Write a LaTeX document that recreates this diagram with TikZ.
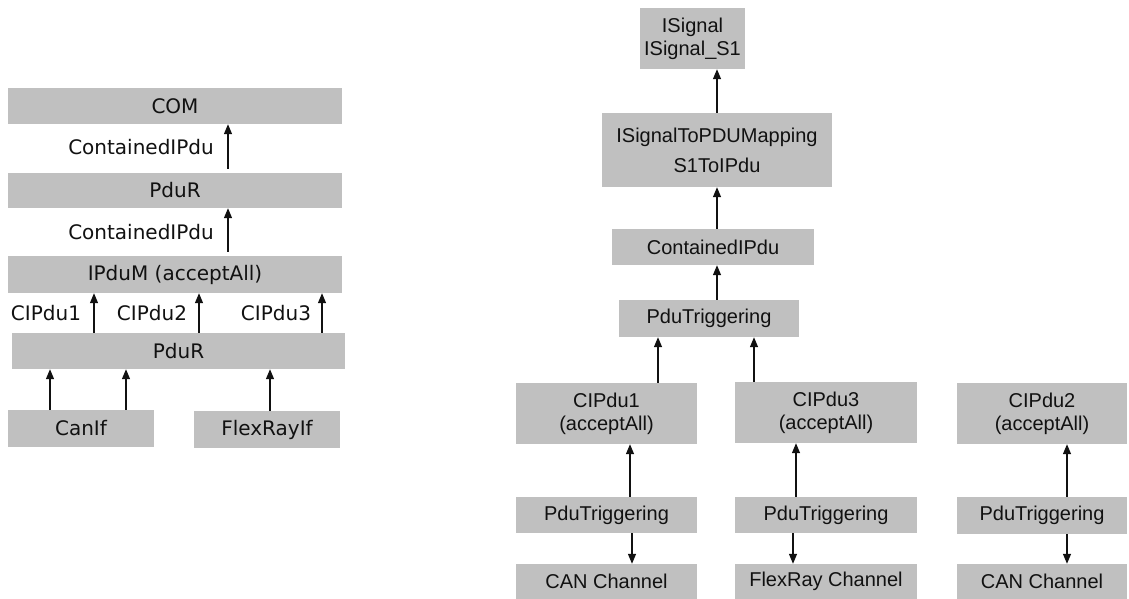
\documentclass[tikz,border=0pt]{standalone}
\usepackage{fontspec}
\setmainfont{Liberation Sans}
\newfontfamily\leftfont{DejaVu Sans}
\usetikzlibrary{arrows.meta}
\definecolor{boxgray}{RGB}{192,192,192}
\definecolor{ink}{RGB}{17,17,17}
\tikzset{
  box/.style={fill=boxgray, draw=none, inner sep=0pt, text=ink, align=center},
  lbox/.style={box, font=\leftfont\fontsize{20}{24}\selectfont},
  rbox/.style={box, font=\fontsize{20}{23}\selectfont},
  lbl/.style={text=ink, inner sep=0pt, font=\leftfont\fontsize{20}{24}\selectfont},
  arr/.style={draw=ink, line width=1.3pt, -{Triangle[width=8pt,length=10pt]}},
}
\begin{document}
\begin{tikzpicture}[x=1pt,y=-1pt]
\useasboundingbox (0,0) rectangle (1129,599);
% ---------- left part ----------
\node[lbox, minimum width=334pt, minimum height=36pt] (com)   at (175,106)   {COM};
\node[lbox, minimum width=334pt, minimum height=35pt] (pdur1) at (175,190.5) {PduR};
\node[lbox, minimum width=334pt, minimum height=37pt] (ipdum) at (175,274.5) {IPduM (acceptAll)};
\node[lbox, minimum width=333pt, minimum height=36pt] (pdur2) at (178.5,351) {PduR};
\node[lbox, minimum width=146pt, minimum height=37pt] (canif) at (81,428.5)  {CanIf};
\node[lbox, minimum width=146pt, minimum height=37pt] (frif)  at (267,429.5) {FlexRayIf};

\node[lbl, anchor=east] (lc1) at (214,147) {ContainedIPdu};
\node[lbl, anchor=east] (lc2) at (214,232) {ContainedIPdu};
\node[lbl] (lp1) at (46,313)  {CIPdu1};
\node[lbl] (lp2) at (152,313) {CIPdu2};
\node[lbl] (lp3) at (276,313) {CIPdu3};

\coordinate (xa) at (228,0);
\coordinate (xb) at (94,0);
\coordinate (xc) at (199,0);
\coordinate (xd) at (322,0);
\coordinate (xe) at (50,0);
\coordinate (xf) at (126,0);
\coordinate (xg) at (270,0);

\draw[arr, shorten <=4pt] (pdur1.north -| xa) -- (com.south -| xa);
\draw[arr, shorten <=4pt] (ipdum.north -| xa) -- (pdur1.south -| xa);
\draw[arr] (pdur2.north -| xb) -- (ipdum.south -| xb);
\draw[arr] (pdur2.north -| xc) -- (ipdum.south -| xc);
\draw[arr] (pdur2.north -| xd) -- (ipdum.south -| xd);
\draw[arr] (canif.north -| xe) -- (pdur2.south -| xe);
\draw[arr] (canif.north -| xf) -- (pdur2.south -| xf);
\draw[arr] (frif.north -| xg) -- (pdur2.south -| xg);

% ---------- right part ----------
\node[rbox, minimum width=105pt, minimum height=61pt] (isig) at (692.5,38.5) {ISignal\\ISignal\_S1};
\node[rbox, minimum width=230pt, minimum height=74pt, font=\fontsize{20}{30}\selectfont] (map) at (717,150) {ISignalToPDUMapping\\S1ToIPdu};
\node[rbox, minimum width=202pt, minimum height=36pt] (cont) at (713,247) {ContainedIPdu};
\node[rbox, minimum width=180pt, minimum height=37pt] (trig) at (709,318.5) {PduTriggering};

\node[rbox, minimum width=181pt, minimum height=61pt] (c1) at (606.5,413.5) {CIPdu1\\(acceptAll)};
\node[rbox, minimum width=182pt, minimum height=61pt] (c3) at (826,412.5) {CIPdu3\\(acceptAll)};
\node[rbox, minimum width=170pt, minimum height=61pt] (c2) at (1042,413.5) {CIPdu2\\(acceptAll)};

\node[rbox, minimum width=181pt, minimum height=36pt] (t1) at (606.5,515) {PduTriggering};
\node[rbox, minimum width=182pt, minimum height=36pt] (t3) at (826,515) {PduTriggering};
\node[rbox, minimum width=170pt, minimum height=37pt] (t2) at (1042,515.5) {PduTriggering};

\node[rbox, minimum width=181pt, minimum height=35pt] (ch1) at (606.5,581.5) {CAN Channel};
\node[rbox, minimum width=182pt, minimum height=35pt] (ch3) at (826,581.5) {FlexRay Channel};
\node[rbox, minimum width=170pt, minimum height=35pt] (ch2) at (1042,581.5) {CAN Channel};

\coordinate (xm) at (717,0);
\coordinate (xn) at (658,0);
\coordinate (xo) at (754,0);
\coordinate (xp) at (630,0);
\coordinate (xq) at (632,0);
\coordinate (xr) at (796,0);
\coordinate (xs) at (793,0);
\coordinate (xt) at (1067,0);

\draw[arr] (map.north -| xm) -- (isig.south -| xm);
\draw[arr] (cont.north -| xm) -- (map.south -| xm);
\draw[arr] (trig.north -| xm) -- (cont.south -| xm);
\draw[arr] (c1.north -| xn) -- (trig.south -| xn);
\draw[arr] (c3.north -| xo) -- (trig.south -| xo);
\draw[arr] (t1.north -| xp) -- (c1.south -| xp);
\draw[arr] (t1.south -| xq) -- (ch1.north -| xq);
\draw[arr] (t3.north -| xr) -- (c3.south -| xr);
\draw[arr] (t3.south -| xs) -- (ch3.north -| xs);
\draw[arr] (t2.north -| xt) -- (c2.south -| xt);
\draw[arr] (t2.south -| xt) -- (ch2.north -| xt);
\end{tikzpicture}
\end{document}
